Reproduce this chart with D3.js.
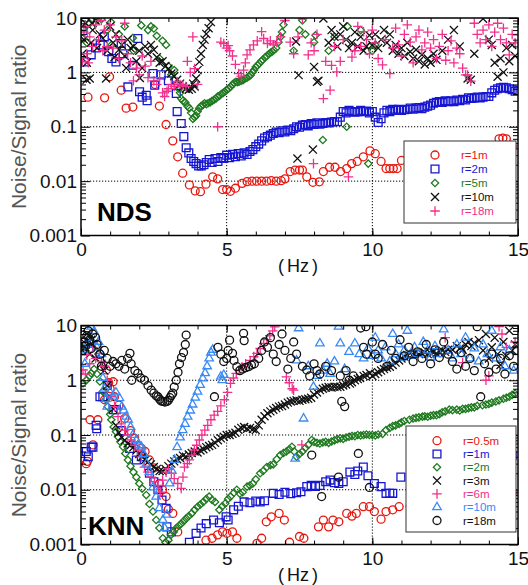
<!DOCTYPE html>
<meta charset="utf-8">
<style>
    body { margin: 0; background: #fff; }
    text { font-family: "Liberation Sans", Arial, sans-serif; }
</style>
<body>
<div id="chart"></div>
<script src="https://d3js.org/d3.v7.min.js"></script>
<script>
    // ---- data: [frequency (Hz), noise/signal ratio] ----
    var ndsR1 = [[0.24,0.35],[0.81,0.34],[0.98,0.83],[1.38,0.47],[1.55,0.22],[1.78,0.23],[2.55,0.6],[2.69,0.24],[2.92,0.11],[3.15,0.055],[3.32,0.028],[3.49,0.014],[3.72,0.0085],[3.92,0.0066],[4.1,0.0064],[4.29,0.0088],[4.52,0.012],[4.69,0.011],[4.86,0.007],[5.0,0.007],[5.13,0.0065],[5.3,0.0074],[5.53,0.0091],[5.7,0.0098],[5.87,0.01],[6.03,0.01],[6.2,0.01],[6.37,0.01],[6.53,0.0102],[6.7,0.01],[6.87,0.0102],[7.0,0.011],[7.18,0.015],[7.35,0.016],[7.5,0.016],[7.6,0.016],[7.75,0.012],[7.96,0.0095],[8.18,0.0097],[8.32,0.015],[8.53,0.018],[8.72,0.018],[8.91,0.015],[9.12,0.017],[9.29,0.021],[9.48,0.023],[9.69,0.028],[9.92,0.036],[10.1,0.032],[10.3,0.023],[10.47,0.017],[10.6,0.017],[10.72,0.017],[10.85,0.017],[11.0,0.024],[11.3,0.022],[11.6,0.025],[12.0,0.028],[12.5,0.03],[13.0,0.032],[13.5,0.035],[14.0,0.045],[14.35,0.06],[14.48,0.062],[14.6,0.06],[14.8,0.043]];
    var ndsR2 = [[0.07,5.9],[0.13,1.56],[0.35,2.1],[0.5,2.8],[0.66,3.2],[0.8,4.5],[0.95,2.4],[1.06,1.8],[1.2,1.56],[1.38,3.4],[1.45,2.2],[1.61,0.54],[1.78,1.35],[1.95,4.2],[2.01,0.44],[2.1,0.35],[2.24,0.38],[2.27,0.3],[2.47,0.95],[2.53,0.58],[2.75,0.9],[3.0,0.7],[3.27,0.41],[3.3,0.19],[3.44,0.115],[3.53,0.066],[3.61,0.041],[3.7,0.033],[3.78,0.026],[3.87,0.023],[3.95,0.021],[4.04,0.019],[4.13,0.019],[4.22,0.02],[4.3,0.022],[4.4,0.025],[4.5,0.022],[4.6,0.026],[4.7,0.023],[4.8,0.027],[4.9,0.026],[5.0,0.03],[5.1,0.027],[5.2,0.031],[5.3,0.028],[5.4,0.032],[5.5,0.029],[5.6,0.033],[5.7,0.031],[5.8,0.035],[5.9,0.038],[6.0,0.043],[6.1,0.048],[6.2,0.055],[6.3,0.062],[6.4,0.066],[6.5,0.07],[6.6,0.075],[6.7,0.08],[6.8,0.078],[6.9,0.084],[7.0,0.08],[7.1,0.087],[7.2,0.085],[7.3,0.092],[7.4,0.1],[7.5,0.098],[7.6,0.107],[7.7,0.11],[7.8,0.104],[7.9,0.115],[8.0,0.11],[8.1,0.118],[8.2,0.112],[8.3,0.115],[8.4,0.12],[8.5,0.117],[8.6,0.122],[8.7,0.125],[8.8,0.124],[8.9,0.15],[9.0,0.19],[9.1,0.18],[9.2,0.2],[9.3,0.19],[9.4,0.185],[9.5,0.19],[9.6,0.2],[9.7,0.19],[9.8,0.195],[9.9,0.18],[10.0,0.19],[10.1,0.15],[10.2,0.12],[10.3,0.14],[10.4,0.18],[10.5,0.2],[10.6,0.19],[10.7,0.21],[10.8,0.2],[10.9,0.21],[11.0,0.2],[11.1,0.205],[11.2,0.21],[11.3,0.22],[11.4,0.21],[11.5,0.22],[11.6,0.225],[11.7,0.215],[11.8,0.23],[11.9,0.24],[12.0,0.25],[12.1,0.27],[12.2,0.28],[12.3,0.29],[12.4,0.28],[12.5,0.3],[12.6,0.29],[12.7,0.3],[12.8,0.29],[12.9,0.31],[13.0,0.3],[13.1,0.32],[13.2,0.31],[13.3,0.34],[13.4,0.33],[13.5,0.34],[13.6,0.35],[13.7,0.34],[13.8,0.35],[13.9,0.36],[14.0,0.36],[14.1,0.42],[14.2,0.47],[14.3,0.5],[14.4,0.52],[14.5,0.53],[14.6,0.52],[14.7,0.5],[14.8,0.48],[14.9,0.45],[15.0,0.46]];
    var ndsR5 = [[0.05,4.2],[0.1,6.5],[0.2,3.5],[0.3,8],[0.55,9.2],[0.7,9.5],[0.9,6],[1.03,8.4],[1.05,3.2],[1.3,5],[1.5,7],[1.78,4.3],[1.8,2.5],[2.07,7.3],[2.3,6],[2.4,7],[2.5,6.4],[2.6,4.7],[2.7,1.8],[2.8,3.8],[2.92,3.2],[3.0,1.3],[3.1,0.9],[3.2,1.1],[3.3,0.6],[3.36,0.5],[3.4,0.42],[3.44,0.33],[3.5,0.3],[3.58,0.28],[3.65,0.24],[3.72,0.22],[3.78,0.18],[3.84,0.14],[3.9,0.15],[3.95,0.16],[4.0,0.19],[4.06,0.22],[4.12,0.24],[4.18,0.25],[4.24,0.27],[4.3,0.26],[4.36,0.27],[4.43,0.28],[4.5,0.3],[4.56,0.31],[4.63,0.33],[4.69,0.36],[4.75,0.37],[4.82,0.4],[4.88,0.42],[4.94,0.44],[5.0,0.48],[5.06,0.5],[5.13,0.54],[5.2,0.6],[5.26,0.64],[5.32,0.67],[5.38,0.66],[5.44,0.68],[5.5,0.7],[5.56,0.72],[5.62,0.76],[5.7,0.8],[5.76,0.84],[5.82,0.89],[5.88,1.0],[5.94,1.1],[6.0,1.25],[6.06,1.35],[6.12,1.45],[6.18,1.6],[6.24,1.7],[6.32,1.9],[6.38,2.0],[6.44,2.15],[6.5,2.3],[6.56,2.4],[6.62,2.55],[6.7,2.8],[6.78,3.6],[6.85,4.5],[6.9,5.5],[6.95,7.5],[7.3,2.5],[7.5,6],[7.6,9],[7.7,5],[8.0,3.6],[8.05,4.8],[8.3,0.057],[8.5,2.5],[8.7,4.5],[9.12,0.1],[9.15,7],[9.6,6],[9.86,0.021],[9.9,3],[10.0,2.5],[10.1,3.2]];
    var ndsR10 = [[0.05,2.2],[0.1,4],[0.15,8],[0.19,0.73],[0.2,1.5],[0.3,0.77],[0.35,3.5],[0.37,8],[0.4,6],[0.5,9],[0.55,2.8],[0.65,5],[0.75,4.2],[0.86,0.77],[0.9,2.5],[1.0,7],[1.1,3.5],[1.15,1.9],[1.2,5],[1.3,2.6],[1.4,3.2],[1.5,2],[1.55,1.2],[1.6,4],[1.7,2.8],[1.8,3],[1.9,1.6],[2.0,2.5],[2.02,0.79],[2.1,1.2],[2.2,3],[2.3,2.2],[2.4,3.2],[2.5,2.6],[2.6,1.9],[2.7,1.5],[2.8,1.6],[2.9,1.3],[3.0,1.17],[3.1,0.95],[3.2,0.85],[3.3,0.73],[3.4,0.62],[3.5,0.55],[3.6,0.5],[3.7,0.48],[3.8,0.5],[3.85,0.62],[3.9,0.55],[3.95,0.77],[4.0,1.1],[4.06,1.56],[4.12,2.2],[4.18,3.2],[4.24,4],[4.3,5.1],[4.38,6.5],[4.46,8.4],[7.38,3.7],[7.43,0.026],[7.47,0.89],[7.96,0.038],[8.0,1.26],[8.1,0.67],[8.15,0.7],[8.32,9.8],[8.5,3.5],[8.6,6],[8.7,4.5],[8.8,3],[8.9,5],[9.0,7],[9.1,4],[9.2,2.8],[9.3,3.5],[9.4,5.5],[9.5,3],[9.6,4.5],[9.7,2.5],[9.8,3],[9.9,4.8],[10.0,3.2],[10.1,5],[10.2,2.8],[10.3,4],[10.4,6],[10.5,3.5],[10.6,5],[10.7,2.5],[10.8,3.2],[10.9,2.2],[11.0,2.8],[11.1,2],[11.2,3.5],[11.3,2.4],[11.4,1.8],[11.5,2.6],[11.6,1.6],[11.7,2.1],[11.8,1.4],[11.9,1.8],[12.0,1.5],[12.1,2.2],[12.2,1.7],[12.4,2.5],[12.6,4],[12.8,6],[13.0,3],[13.27,0.77],[13.38,0.73],[13.5,2.2],[13.8,9.7],[14.0,4],[14.1,3.2],[14.2,1.5],[14.3,0.83],[14.4,1.8],[14.5,1.0],[14.6,2.8],[14.7,1.6],[14.8,3.2],[14.9,2]];
    var ndsR18 = [[0.05,1.6],[0.1,5.5],[0.15,7],[0.2,2.2],[0.25,1.5],[0.3,4.5],[0.4,3],[0.5,7.5],[0.6,4],[0.7,9],[0.75,2.5],[0.8,6],[0.9,3],[1.0,7.5],[1.1,2.8],[1.2,4.5],[1.3,1.8],[1.4,3.8],[1.5,8],[1.6,2.2],[1.7,1.5],[1.8,0.7],[1.9,1.2],[2.0,0.9],[2.1,2],[2.2,1.3],[2.3,0.8],[2.4,1.6],[2.5,0.7],[2.6,0.6],[2.7,0.8],[2.8,0.42],[2.87,0.36],[2.95,0.45],[3.0,0.5],[3.1,0.6],[3.2,0.55],[3.3,0.68],[3.4,0.6],[3.5,0.58],[3.6,0.55],[3.65,1.6],[3.75,1.0],[3.84,4.5],[3.9,1.17],[4.0,0.6],[4.69,0.1],[4.8,3.6],[4.9,3.4],[5.0,2.8],[5.05,3.1],[5.1,2.5],[5.2,2],[5.3,1.4],[5.41,0.95],[5.5,0.85],[5.58,1.1],[5.64,1.5],[5.7,2.1],[5.8,2.6],[5.92,3.2],[6.05,3.8],[6.2,5.6],[6.27,4.2],[6.4,3.4],[6.5,3.8],[6.6,3.2],[6.72,3.5],[6.85,4.5],[7.0,9],[7.18,3.6],[7.3,2.2],[7.45,4.5],[7.6,9.5],[7.8,2.1],[7.9,3.5],[7.98,0.021],[8.0,2.5],[8.1,5],[8.32,0.33],[8.4,1.6],[8.55,0.47],[8.6,1.35],[8.7,3],[8.78,1.02],[8.9,1.6],[9.0,4],[9.18,0.012],[9.3,1.9],[9.4,2.5],[9.5,7],[9.6,3],[9.7,5.6],[9.8,4],[9.9,2.2],[10.0,6],[10.1,3.5],[10.2,1.8],[10.35,1.37],[10.45,4],[10.6,0.95],[10.7,2.8],[10.8,6.5],[10.9,3.2],[11.0,2],[11.1,5],[11.2,7.5],[11.3,3.6],[11.4,1.5],[11.5,4.5],[11.6,6],[11.7,2.6],[11.8,3.5],[11.9,5.5],[12.0,2.8],[12.1,4],[12.2,1.8],[12.3,3],[12.4,5],[12.52,1.67],[12.6,2.5],[12.7,3.8],[12.8,1.5],[12.9,2.8],[13.0,2.2],[13.1,1.2],[13.2,0.9],[13.27,0.89],[13.38,0.69],[13.5,8],[13.6,5],[13.7,3.5],[13.8,6],[13.9,4],[14.0,7.5],[14.1,3],[14.2,5.5],[14.3,8],[14.4,4],[14.5,6.5],[14.6,3.5],[14.7,2.1],[14.8,5],[14.9,3.5]];

    var knnR05 = [[0.18,0.03],[0.22,0.033],[0.31,0.19],[0.41,0.066],[0.58,0.19],[0.81,0.44],[0.87,1.54],[0.95,0.9],[1.0,0.7],[1.1,0.94],[1.15,0.5],[1.3,0.35],[1.5,0.2],[1.7,0.12],[1.84,0.087],[2.07,0.057],[2.2,0.05],[2.35,0.035],[2.5,0.025],[2.69,0.013],[2.8,0.01],[2.92,0.0075],[3.0,0.0044],[3.15,0.0037],[3.32,0.0017],[4.29,0.0012],[4.5,0.0013],[4.69,0.0015],[4.86,0.0017],[5.01,0.0016],[5.2,0.0017],[5.35,0.0013],[6.04,0.00105],[6.2,0.0013],[6.36,0.0026],[6.53,0.0032],[6.8,0.0037],[6.98,0.0028],[7.16,0.0011],[7.5,0.0014],[7.65,0.0013],[8.15,0.0021],[8.32,0.0028],[8.5,0.0021],[8.65,0.0028],[8.85,0.0026],[9.12,0.0037],[9.3,0.0033],[9.45,0.0037],[9.69,0.0049],[9.9,0.0049],[10.07,0.004],[10.3,0.0029],[10.47,0.004],[10.7,0.0043],[10.92,0.0049],[11.3,0.005],[12.0,0.006],[13.0,0.007],[14.0,0.008],[14.8,0.0087]];
    var knnR1 = [[0.18,0.05],[0.25,0.04],[0.35,0.06],[0.41,0.06],[0.52,0.15],[0.54,0.13],[0.65,0.5],[0.75,0.5],[0.9,0.8],[1.1,0.29],[1.21,0.29],[1.38,0.12],[1.67,0.057],[1.9,0.035],[2.07,0.04],[2.35,0.02],[2.5,0.014],[2.64,0.01],[2.78,0.0065],[2.92,0.0046],[2.95,0.0021],[3.1,0.0017],[3.72,0.0011],[3.95,0.0016],[4.12,0.002],[4.3,0.0024],[4.55,0.0028],[4.75,0.0025],[4.98,0.0032],[5.05,0.0028],[5.24,0.0043],[5.4,0.005],[5.6,0.006],[5.8,0.0058],[6.0,0.0062],[6.15,0.006],[6.3,0.0063],[6.6,0.0086],[6.8,0.0082],[7.0,0.009],[7.2,0.0085],[7.4,0.0088],[7.55,0.0092],[7.75,0.0114],[7.9,0.012],[8.05,0.0115],[8.2,0.012],[8.4,0.014],[8.55,0.015],[8.7,0.0135],[8.85,0.013],[9.0,0.014],[9.23,0.021],[9.4,0.019],[9.5,0.022],[9.69,0.026],[9.85,0.018],[10.07,0.013],[10.3,0.0114],[10.47,0.0086],[10.6,0.0086],[10.7,0.0086],[10.98,0.017],[11.5,0.02],[12.0,0.022],[12.5,0.025],[13.0,0.03],[13.5,0.032],[14.0,0.035],[14.5,0.038],[14.8,0.042]];
    var knnR2 = [[0.07,0.88],[0.18,1.0],[0.3,1.2],[0.35,1.34],[0.45,1.6],[0.55,1.3],[0.65,0.95],[0.75,0.62],[0.85,0.45],[0.92,0.33],[1.0,0.24],[1.04,0.19],[1.12,0.14],[1.2,0.115],[1.27,0.093],[1.35,0.075],[1.44,0.061],[1.52,0.046],[1.61,0.035],[1.7,0.027],[1.8,0.021],[1.9,0.017],[2.0,0.013],[2.1,0.0105],[2.24,0.008],[2.35,0.0055],[2.47,0.004],[2.58,0.0028],[2.69,0.002],[2.81,0.0013],[2.9,0.0011],[3.0,0.0012],[3.09,0.0015],[3.18,0.0017],[3.27,0.002],[3.36,0.0022],[3.44,0.0024],[3.53,0.0027],[3.61,0.003],[3.7,0.0033],[3.8,0.0037],[3.9,0.0043],[4.0,0.0049],[4.1,0.0054],[4.2,0.006],[4.3,0.0068],[4.4,0.0075],[4.5,0.0065],[4.6,0.006],[4.75,0.0043],[4.85,0.005],[4.95,0.0056],[5.05,0.0068],[5.13,0.0075],[5.25,0.0088],[5.35,0.01],[5.45,0.0085],[5.55,0.009],[5.7,0.0114],[5.8,0.012],[5.9,0.013],[6.0,0.0155],[6.15,0.02],[6.25,0.022],[6.38,0.026],[6.5,0.028],[6.6,0.029],[6.72,0.036],[6.84,0.043],[6.95,0.047],[7.05,0.05],[7.15,0.055],[7.24,0.061],[7.32,0.05],[7.4,0.04],[7.5,0.045],[7.6,0.05],[7.7,0.058],[7.8,0.066],[7.92,0.081],[8.0,0.075],[8.1,0.072],[8.2,0.07],[8.3,0.073],[8.4,0.075],[8.5,0.072],[8.6,0.076],[8.7,0.08],[8.8,0.084],[8.9,0.087],[9.0,0.085],[9.1,0.09],[9.2,0.093],[9.3,0.096],[9.4,0.095],[9.5,0.1],[9.6,0.098],[9.7,0.1],[9.8,0.102],[9.9,0.1],[10.0,0.1],[10.1,0.098],[10.2,0.102],[10.35,0.105],[10.47,0.123],[10.6,0.135],[10.7,0.145],[10.8,0.15],[10.92,0.16],[11.0,0.17],[11.1,0.18],[11.27,0.19],[11.4,0.2],[11.5,0.205],[11.6,0.21],[11.72,0.216],[11.8,0.22],[11.9,0.215],[12.0,0.225],[12.1,0.23],[12.2,0.23],[12.3,0.24],[12.4,0.26],[12.5,0.27],[12.64,0.29],[12.75,0.285],[12.9,0.29],[13.0,0.28],[13.1,0.3],[13.2,0.3],[13.3,0.31],[13.4,0.32],[13.5,0.32],[13.6,0.34],[13.78,0.35],[13.9,0.36],[14.0,0.37],[14.1,0.39],[14.24,0.41],[14.35,0.43],[14.5,0.46],[14.6,0.48],[14.7,0.5],[14.8,0.54],[14.9,0.57]];
    var knnR3 = [[0.05,3.5],[0.1,5],[0.15,4],[0.2,7],[0.3,3],[0.35,5.5],[0.4,4.5],[0.5,2.5],[0.6,3.5],[0.7,2],[0.8,1.5],[0.9,0.8],[1.0,0.5],[1.1,0.3],[1.2,0.15],[1.3,0.11],[1.4,0.09],[1.5,0.08],[1.6,0.07],[1.7,0.065],[1.8,0.06],[1.9,0.052],[2.0,0.045],[2.1,0.04],[2.2,0.035],[2.3,0.032],[2.4,0.029],[2.5,0.026],[2.6,0.024],[2.7,0.022],[2.8,0.022],[2.9,0.024],[3.0,0.027],[3.1,0.03],[3.2,0.033],[3.3,0.036],[3.4,0.038],[3.5,0.042],[3.6,0.04],[3.7,0.044],[3.8,0.047],[3.9,0.05],[4.0,0.048],[4.1,0.052],[4.2,0.055],[4.3,0.06],[4.4,0.063],[4.5,0.066],[4.6,0.072],[4.7,0.08],[4.8,0.087],[4.9,0.093],[5.0,0.1],[5.1,0.1],[5.2,0.105],[5.3,0.11],[5.4,0.125],[5.5,0.135],[5.6,0.14],[5.7,0.13],[5.8,0.135],[5.9,0.128],[6.0,0.123],[6.1,0.15],[6.2,0.19],[6.3,0.22],[6.4,0.25],[6.5,0.27],[6.6,0.29],[6.7,0.31],[6.8,0.33],[6.9,0.34],[7.0,0.36],[7.1,0.39],[7.2,0.41],[7.3,0.42],[7.4,0.43],[7.5,0.42],[7.6,0.44],[7.7,0.45],[7.8,0.46],[7.9,0.48],[8.0,0.55],[8.1,0.6],[8.2,0.66],[8.3,0.7],[8.4,0.73],[8.5,0.75],[8.6,0.74],[8.7,0.76],[8.8,0.75],[8.9,0.76],[9.0,0.8],[9.1,0.84],[9.23,0.87],[9.3,0.92],[9.4,1.0],[9.5,1.05],[9.58,1.1],[9.7,1.2],[9.8,1.25],[9.92,1.34],[10.0,1.2],[10.1,1.3],[10.2,1.4],[10.3,1.5],[10.4,1.6],[10.5,1.7],[10.6,1.77],[10.7,1.9],[10.8,2.1],[10.92,2.3],[11.0,2.5],[11.1,2.7],[11.2,2.9],[11.3,3.1],[11.4,3.0],[11.5,3.2],[11.6,3.0],[11.7,3.1],[11.8,3.2],[11.9,3.0],[12.0,3.1],[12.1,3.3],[12.2,3.1],[12.3,3.4],[12.4,3.5],[12.5,3.3],[12.6,3.6],[12.75,3.6],[12.9,4.2],[13.0,3.8],[13.1,3.6],[13.2,4.5],[13.3,5],[13.4,4.2],[13.5,4.8],[13.66,5.4],[13.8,3.5],[13.9,7],[14.0,2.5],[14.1,4],[14.2,6],[14.3,3],[14.4,1.9],[14.5,5],[14.6,2.8],[14.7,8],[14.8,3.5],[14.9,4.5]];
    var knnR6 = [[0.07,1.54],[0.15,1.3],[0.2,2.9],[0.3,2],[0.4,4],[0.5,2.5],[0.64,3.1],[0.7,2.2],[0.81,1.8],[0.9,1.0],[1.04,0.5],[1.15,0.33],[1.27,0.216],[1.38,0.16],[1.5,0.123],[1.6,0.1],[1.72,0.081],[1.85,0.065],[1.95,0.053],[2.07,0.04],[2.18,0.026],[2.3,0.021],[2.41,0.017],[2.52,0.014],[2.64,0.012],[2.72,0.009],[2.8,0.015],[2.92,0.021],[3.0,0.024],[3.1,0.02],[3.2,0.016],[3.32,0.013],[3.44,0.0106],[3.5,0.017],[3.55,0.026],[3.65,0.03],[3.72,0.035],[3.8,0.043],[3.89,0.053],[3.97,0.065],[4.06,0.081],[4.15,0.1],[4.25,0.123],[4.35,0.15],[4.46,0.19],[4.57,0.23],[4.69,0.27],[4.8,0.34],[4.92,0.44],[5.03,0.6],[5.13,0.88],[5.23,1.1],[5.33,1.34],[5.43,1.55],[5.53,1.77],[5.65,2.0],[5.81,2.3],[5.93,2.7],[6.04,3.1],[6.15,3.8],[6.27,4.7],[6.38,5.5],[6.48,6.5],[6.58,8],[6.65,9.4],[7.05,1.15],[7.15,0.9],[7.25,0.7],[7.3,0.66],[7.58,0.066],[12.5,6],[13.1,2.1],[13.9,1.0],[14.0,1.2],[14.35,9.5],[14.45,7],[14.6,4],[14.9,5]];
    var knnR10 = [[0.07,3.5],[0.13,2.0],[0.2,4.5],[0.3,6],[0.35,9.5],[0.45,7.8],[0.55,4],[0.6,5],[0.7,3],[0.75,1.1],[0.8,0.7],[0.85,0.45],[0.9,0.33],[1.0,0.6],[1.1,0.5],[1.2,0.6],[1.32,0.47],[1.4,0.33],[1.47,0.28],[1.55,0.216],[1.62,0.19],[1.7,0.14],[1.78,0.1],[1.9,0.08],[2.0,0.065],[2.07,0.061],[2.15,0.045],[2.25,0.03],[2.35,0.021],[2.47,0.011],[2.58,0.0075],[2.69,0.0046],[2.81,0.0028],[2.87,0.002],[2.95,0.0035],[3.04,0.013],[3.12,0.022],[3.21,0.035],[3.3,0.06],[3.4,0.09],[3.49,0.123],[3.57,0.16],[3.66,0.216],[3.75,0.28],[3.83,0.36],[3.92,0.48],[4.0,0.62],[4.09,0.82],[4.18,1.08],[4.26,1.35],[4.33,1.8],[4.4,2.5],[4.46,3.2],[4.52,3.6],[4.8,1.16],[4.85,1.0],[4.9,1.25],[7.35,0.037],[7.4,2.3],[7.47,8.9],[7.64,0.2],[7.8,1.8],[7.98,0.76],[8.1,1.2],[8.2,4.7],[8.3,1.5],[8.45,2.0],[8.55,1.3],[8.7,2.2],[8.84,9.5],[8.9,4.7],[9.05,1.6],[9.2,3.3],[9.4,4.7],[9.55,3],[9.7,2.5],[9.85,3.8],[10.0,2.8],[10.1,6],[10.2,3.5],[10.3,2.5],[10.45,4],[10.6,2.2],[10.7,7],[10.8,3],[10.9,4.5],[11.0,2.6],[11.1,3.5],[11.2,8],[11.3,2.8],[11.45,4],[11.6,3],[11.75,5],[11.9,3.5],[12.0,2.6],[12.15,4.2],[12.3,3],[12.45,8.5],[12.6,3.5],[12.75,2.5],[12.9,4.5],[13.05,3],[13.2,6],[13.35,2.5],[13.5,3.8],[13.65,2.2],[13.8,4.5],[13.95,3],[14.1,8],[14.25,2.5],[14.4,4],[14.55,1.8],[14.7,3.5],[14.85,1.5]];
    var knnR18 = [[0.05,3.5],[0.1,5],[0.15,4.2],[0.2,6.5],[0.25,8],[0.3,5.5],[0.35,3.8],[0.4,7],[0.5,6],[0.55,4.5],[0.65,3],[0.7,1.8],[0.8,3.5],[0.9,2.5],[1.0,1.8],[1.1,2.2],[1.2,2.0],[1.3,1.8],[1.4,2.3],[1.5,1.6],[1.6,2.5],[1.68,3.1],[1.72,2.0],[1.74,1.0],[1.85,1.5],[1.95,1.34],[2.05,1.1],[2.18,1.0],[2.3,0.8],[2.41,0.66],[2.5,0.58],[2.58,0.52],[2.64,0.5],[2.7,0.45],[2.75,0.42],[2.81,0.41],[2.88,0.4],[2.95,0.41],[3.0,0.43],[3.05,0.48],[3.1,0.53],[3.15,0.58],[3.2,0.75],[3.27,1.0],[3.33,1.4],[3.38,2.0],[3.45,2.6],[3.52,3.2],[3.58,4.5],[3.61,6.7],[4.58,0.5],[4.7,4],[4.8,3],[4.9,2.2],[5.0,2.5],[5.05,3.5],[5.1,5.4],[5.2,3.1],[5.25,2.3],[5.35,1.77],[5.45,1.5],[5.55,1.6],[5.58,7.2],[5.6,5.3],[5.65,1.7],[5.75,1.77],[5.85,1.9],[5.95,2.0],[6.1,2.5],[6.2,3.5],[6.3,5],[6.4,4],[6.5,6],[6.6,3],[6.7,2.2],[6.8,4.5],[6.9,7],[7.0,3.5],[7.1,1.6],[7.2,2.5],[7.3,5],[7.4,3],[7.6,1.8],[7.75,1.54],[7.85,1.2],[7.92,0.043],[8.0,2],[8.1,1.5],[8.2,1.3],[8.26,0.0075],[8.4,1.8],[8.6,1.5],[8.84,0.017],[8.9,1.2],[8.95,0.41],[9.05,0.33],[9.1,1.5],[9.2,1.0],[9.35,1.2],[9.52,0.046],[9.6,9],[9.7,4],[9.78,9.5],[9.8,3],[9.9,0.011],[10.0,5],[10.1,3],[10.2,2.5],[10.35,4.5],[10.5,1.8],[10.65,3.5],[10.8,2.5],[10.95,5.5],[11.1,2.8],[11.25,4],[11.4,2.2],[11.55,3.3],[11.7,2.5],[11.85,4.5],[12.0,2],[12.15,3.6],[12.3,2.6],[12.45,5],[12.6,3],[12.75,2.2],[12.9,1.6],[13.05,3.2],[13.2,1.8],[13.35,2.5],[13.5,1.5],[13.6,9.5],[13.72,0.5],[13.85,2],[14.0,1.4],[14.1,3],[14.25,1.6],[14.4,2.5],[14.55,1.3],[14.7,2.8],[14.85,1.8],[14.95,3.5]];

    var xMajor = [0, 5, 10, 15];
    var yMajor = [0.001, 0.01, 0.1, 1, 10];
    var yTickLabels = ["0.001", "0.01", "0.1", "1", "10"];

    var red = "#e8170f", blue = "#1616d2", green = "#1f7a1f", black = "#111",
        pink = "#f0308c", sky = "#3a8af5";

    var width = 528,
        height = 585;

    var svg = d3.select("#chart").append("svg")
        .attr("width", width)
        .attr("height", height);

    var x = d3.scaleLinear().domain([0, 15]).range([81, 518]);

    // marker shapes and sizes, shared by both panels
    var mCircle = {sym: d3.symbolCircle, size: 50},
        mSquare = {sym: d3.symbolSquare2, size: 78},
        mDiamond = {sym: d3.symbolDiamond2, size: 34},
        mTimes = {sym: d3.symbolTimes, size: 44},
        mPlus = {sym: d3.symbolPlus, size: 32},
        mTriangle = {sym: d3.symbolTriangle2, size: 52};

    var panels = [
        {
            name: "NDS", top: 18, bottom: 235.5, nameX: 97, nameY: 221,
            legend: {x: 404, y: 141, w: 112, h: 82, first: 14, row: 14},
            series: [
                {label: "r=1m", data: ndsR1, m: mCircle, color: red},
                {label: "r=2m", data: ndsR2, m: mSquare, color: blue},
                {label: "r=5m", data: ndsR5, m: mDiamond, color: green},
                {label: "r=10m", data: ndsR10, m: mTimes, color: black},
                {label: "r=18m", data: ndsR18, m: mPlus, color: pink}
            ]
        },
        {
            name: "KNN", top: 325.5, bottom: 544.5, nameX: 88, nameY: 535,
            legend: {x: 406, y: 426, w: 110, h: 106, first: 14.7, row: 13.3},
            series: [
                {label: "r=0.5m", data: knnR05, m: mCircle, color: red},
                {label: "r=1m", data: knnR1, m: mSquare, color: blue},
                {label: "r=2m", data: knnR2, m: mDiamond, color: green},
                {label: "r=3m", data: knnR3, m: mTimes, color: black},
                {label: "r=6m", data: knnR6, m: mPlus, color: pink},
                {label: "r=10m", data: knnR10, m: mTriangle, color: sky},
                {label: "r=18m", data: knnR18, m: mCircle, color: black}
            ]
        }
    ];

    // minor log ticks 2..9 in every decade
    var yMinor = [];
    [0.001, 0.01, 0.1, 1].forEach(function (d) {
        for (var k = 2; k < 10; k++) yMinor.push(d * k);
    });
    var xMinor = d3.range(0, 16);

    panels.forEach(function (p, pi) {
        var y = d3.scaleLog().domain([0.001, 10]).range([p.bottom, p.top]);
        var g = svg.append("g");

        g.append("clipPath").attr("id", "clip" + pi)
            .append("rect")
            .attr("x", x(0)).attr("y", p.top)
            .attr("width", x(15) - x(0)).attr("height", p.bottom - p.top);

        // dotted grid
        g.selectAll(".gx").data([5, 10]).enter().append("line")
            .attr("x1", function (d) { return x(d); })
            .attr("x2", function (d) { return x(d); })
            .attr("y1", p.top).attr("y2", p.bottom)
            .attr("stroke", "#000").attr("stroke-width", 1)
            .attr("stroke-dasharray", "1.2,1.8");
        g.selectAll(".gy").data([0.01, 0.1, 1]).enter().append("line")
            .attr("x1", x(0)).attr("x2", x(15))
            .attr("y1", function (d) { return y(d); })
            .attr("y2", function (d) { return y(d); })
            .attr("stroke", "#000").attr("stroke-width", 1)
            .attr("stroke-dasharray", "1.2,1.8");

        // points
        var pts = g.append("g").attr("clip-path", "url(#clip" + pi + ")");
        p.series.forEach(function (s) {
            var path = d3.symbol().type(s.m.sym).size(s.m.size)();
            pts.append("g").selectAll("path")
                .data(s.data)
                .enter().append("path")
                .attr("d", path)
                .attr("transform", function (d) {
                    return "translate(" + x(d[0]) + "," + y(d[1]) + ")";
                })
                .attr("fill", "none")
                .attr("stroke", s.color)
                .attr("stroke-width", 1.3);
        });

        // panel label
        g.append("text")
            .attr("x", p.nameX).attr("y", p.nameY)
            .attr("font-size", 26).attr("font-weight", "bold")
            .attr("fill", "#000")
            .text(p.name);

        // axes (ticks point inward)
        var axB = g.append("g").attr("transform", "translate(0," + p.bottom + ")");
        axB.call(d3.axisBottom(x).tickValues(xMinor).tickSize(-4).tickFormat(""));
        axB.append("g").call(d3.axisBottom(x).tickValues(xMajor).tickSize(-7).tickPadding(7)
            .tickFormat(d3.format("d")));
        var axT = g.append("g").attr("transform", "translate(0," + p.top + ")");
        axT.call(d3.axisTop(x).tickValues(xMinor).tickSize(-4).tickFormat(""));
        axT.append("g").call(d3.axisTop(x).tickValues(xMajor).tickSize(-7).tickFormat(""));

        var axL = g.append("g").attr("transform", "translate(" + x(0) + ",0)");
        axL.call(d3.axisLeft(y).tickValues(yMinor).tickSize(-5).tickFormat(""));
        axL.append("g").call(d3.axisLeft(y).tickValues(yMajor).tickSize(-9).tickPadding(4)
            .tickFormat(function (d, i) { return yTickLabels[i]; }));
        var axR = g.append("g").attr("transform", "translate(" + x(15) + ",0)");
        axR.call(d3.axisRight(y).tickValues(yMinor).tickSize(-5).tickFormat(""));
        axR.append("g").call(d3.axisRight(y).tickValues(yMajor).tickSize(-9).tickFormat(""));

        g.selectAll(".domain").remove();
        g.selectAll(".tick line").attr("stroke", "#000");
        g.selectAll(".tick text")
            .attr("font-size", 19)
            .attr("font-family", "'Liberation Sans', Arial, sans-serif")
            .attr("fill", "#111");

        // frame
        g.append("rect")
            .attr("x", x(0)).attr("y", p.top)
            .attr("width", x(15) - x(0)).attr("height", p.bottom - p.top)
            .attr("fill", "none").attr("stroke", "#000").attr("stroke-width", 1.5);

        // y label
        g.append("text")
            .attr("transform", "translate(26," + (p.top + p.bottom) / 2 + ") rotate(-90)")
            .attr("text-anchor", "middle")
            .attr("font-size", 21)
            .attr("fill", "#555")
            .text("Noise/Signal ratio");

        // x label
        var hz = g.append("text")
            .attr("x", 298).attr("y", p.bottom + 36.5)
            .attr("text-anchor", "middle")
            .attr("font-size", 18)
            .attr("fill", "#111");
        hz.append("tspan").text("(");
        hz.append("tspan").attr("dx", 3).text("Hz");
        hz.append("tspan").attr("dx", 3).text(")");

        // legend
        var L = p.legend;
        var lg = g.append("g");
        lg.append("rect")
            .attr("x", L.x).attr("y", L.y).attr("width", L.w).attr("height", L.h)
            .attr("fill", "#fff").attr("stroke", "#333").attr("stroke-width", 1);
        p.series.forEach(function (s, i) {
            var yy = L.y + L.first + i * L.row;
            lg.append("path")
                .attr("d", d3.symbol().type(s.m.sym).size(s.m.size)())
                .attr("transform", "translate(" + (L.x + 31) + "," + yy + ")")
                .attr("fill", "none").attr("stroke", s.color).attr("stroke-width", 1.3);
            lg.append("text")
                .attr("x", L.x + 57).attr("y", yy + 4)
                .attr("font-size", 11.5)
                .attr("fill", s.color)
                .text(s.label);
        });
    });
</script>
</body>
